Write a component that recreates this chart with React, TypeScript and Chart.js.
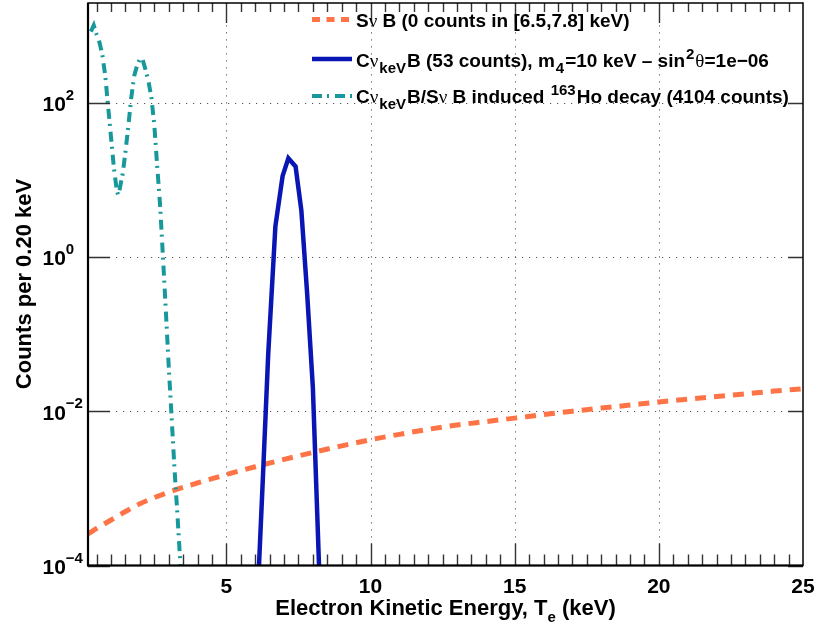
import React, { useEffect, useRef } from "react";
import { Chart, registerables } from "chart.js";
Chart.register(...registerables);

// ---- data ----
const bkgX = [0.2, 0.5, 1, 1.5, 2, 3, 4, 5, 6, 7, 8, 9, 10, 11, 12, 13, 14, 15, 16, 17, 18, 19, 20, 21, 22, 23, 24, 25];
const bkgY = [2.57e-4, 3.02e-4, 3.89e-4, 5.01e-4, 6.31e-4, 8.91e-4, 1.175e-3, 1.51e-3, 1.905e-3, 2.37e-3, 2.92e-3, 3.55e-3, 4.27e-3, 5.01e-3, 5.82e-3, 6.61e-3, 7.33e-3, 8.13e-3, 9.02e-3, 1.0e-2, 1.096e-2, 1.2e-2, 1.318e-2, 1.43e-2, 1.55e-2, 1.68e-2, 1.82e-2, 1.95e-2];

const sigX = [6.0, 6.25, 6.45, 6.7, 6.95, 7.15, 7.4, 7.6, 7.8, 8.0, 8.25];
const sigY = [8e-6, 1e-3, 0.054, 2.5, 11.2, 19, 14.8, 4.0, 0.34, 0.02, 4e-5];

const hoX = [0.3, 0.4, 0.5, 0.6, 0.7, 0.8, 0.9, 1.0, 1.1, 1.2, 1.25, 1.3, 1.4, 1.5, 1.6, 1.7, 1.8, 1.9, 2.0, 2.05, 2.1, 2.2, 2.3, 2.4, 2.5, 2.6, 2.7, 2.8, 2.9, 3.0, 3.1, 3.2, 3.3, 3.4, 3.5];
const hoY = [830, 1000, 760, 600, 410, 220, 87, 35, 14, 7.2, 6.3, 7.6, 11.7, 23, 50, 115, 220, 300, 370, 380, 355, 263, 186, 115, 51, 15, 4.7, 1.0, 0.2, 0.038, 8.3e-3, 1.8e-3, 4.7e-4, 1.1e-4, 2.5e-5];

const xMajorTicks = [5, 10, 15, 20, 25];
const xTickLabels = ["5", "10", "15", "20", "25"];
const yMajorTicks = [1e-4, 1e-2, 1, 1e2];
const yTickExps = ["\u22124", "\u22122", "0", "2"];

const X_MIN = 0.2;
const X_MAX = 25;
const Y_MIN = 1e-4;
const Y_MAX = 1950;

const ORANGE = "#FF7446";
const BLUE = "#0A16B4";
const TEAL = "#17989A";

const SANS = '"Liberation Sans", Arial, Helvetica, sans-serif';
const SERIF = '"Liberation Serif", "DejaVu Serif", serif';

type Seg = { t: string; size: number; serif?: boolean; dy?: number; pad?: number };

function drawRich(ctx: CanvasRenderingContext2D, x: number, y: number, segs: Seg[]) {
  let cx = x;
  for (const s of segs) {
    ctx.font = `${s.serif ? "" : "bold "}${s.size}px ${s.serif ? SERIF : SANS}`;
    cx += s.pad || 0;
    ctx.fillText(s.t, cx, y + (s.dy || 0));
    cx += ctx.measureText(s.t).width + (s.pad || 0);
  }
  return cx - x;
}
function richWidth(ctx: CanvasRenderingContext2D, segs: Seg[]) {
  let w = 0;
  for (const s of segs) {
    ctx.font = `${s.serif ? "" : "bold "}${s.size}px ${s.serif ? SERIF : SANS}`;
    w += ctx.measureText(s.t).width + 2 * (s.pad || 0);
  }
  return w;
}

const LF = 19; // legend font
const LS = 15; // legend sub/sup font
const P = 1; // script padding

const legendRows: { color: string; dash: number[]; width: number; lineY: number; base: number; segs: Seg[] }[] = [
  {
    color: ORANGE, dash: [8, 6.5], width: 5, lineY: 19.5, base: 26.7,
    segs: [
      { t: "S", size: LF },
      { t: "\u03BD", size: LF, serif: true },
      { t: " B (0 counts in [6.5,7.8] keV)", size: LF },
    ],
  },
  {
    color: BLUE, dash: [], width: 4.5, lineY: 59, base: 66.5,
    segs: [
      { t: "C", size: LF },
      { t: "\u03BD", size: LF, serif: true },
      { t: "keV", size: LS, dy: 6, pad: P },
      { t: "B (53 counts), m", size: LF },
      { t: "4", size: LS, dy: 6, pad: P },
      { t: "=10 keV \u2013 sin", size: LF },
      { t: "2", size: LS, dy: -8, pad: P },
      { t: "\u03B8", size: LF, serif: true },
      { t: "=1e\u221206", size: LF },
    ],
  },
  {
    color: TEAL, dash: [10, 5, 2, 6], width: 4, lineY: 96, base: 103,
    segs: [
      { t: "C", size: LF },
      { t: "\u03BD", size: LF, serif: true },
      { t: "keV", size: LS, dy: 6, pad: P },
      { t: "B/S", size: LF },
      { t: "\u03BD", size: LF, serif: true },
      { t: " B induced ", size: LF },
      { t: "163", size: LS, dy: -8, pad: P },
      { t: "Ho decay (4104 counts)", size: LF },
    ],
  },
];

const rootStyle = {
  id: "rootStyle",
  beforeDatasetsDraw(chart: any) {
    const { ctx, chartArea: a, scales } = chart;
    const xs = scales.x, ys = scales.y;
    ctx.save();
    ctx.strokeStyle = "#555";
    ctx.lineWidth = 1;
    ctx.setLineDash([1.2, 5.8]);
    for (const v of xMajorTicks) {
      if (v >= X_MAX) continue;
      const px = Math.round(xs.getPixelForValue(v)) + 0.5;
      ctx.beginPath();
      ctx.moveTo(px, a.bottom);
      ctx.lineTo(px, a.top);
      ctx.stroke();
    }
    for (const v of yMajorTicks) {
      if (v <= Y_MIN) continue;
      const py = Math.round(ys.getPixelForValue(v)) + 0.5;
      ctx.beginPath();
      ctx.moveTo(a.left, py);
      ctx.lineTo(a.right, py);
      ctx.stroke();
    }
    ctx.restore();
  },
  afterDatasetsDraw(chart: any) {
    const { ctx, chartArea: a, scales } = chart;
    const xs = scales.x, ys = scales.y;
    ctx.save();
    ctx.setLineDash([]);
    // ticks
    ctx.strokeStyle = "#333";
    ctx.lineWidth = 1.4;
    for (let i = 1; i * 0.5 < X_MAX; i++) {
      const v = i * 0.5;
      if (v <= X_MIN) continue;
      const major = xMajorTicks.includes(v);
      const px = Math.round(xs.getPixelForValue(v)) + 0.5;
      ctx.beginPath();
      ctx.moveTo(px, a.bottom);
      ctx.lineTo(px, a.bottom - (major ? 22 : 11));
      ctx.moveTo(px, a.top);
      ctx.lineTo(px, a.top + (major ? 20 : 9));
      ctx.stroke();
    }
    for (const v of yMajorTicks) {
      const py = Math.round(ys.getPixelForValue(v)) + 0.5;
      ctx.beginPath();
      ctx.moveTo(a.left, py);
      ctx.lineTo(a.left + 22, py);
      ctx.moveTo(a.right, py);
      ctx.lineTo(a.right - 15, py);
      ctx.stroke();
    }
    // frame
    ctx.strokeStyle = "#000";
    ctx.lineWidth = 1.5;
    ctx.strokeRect(a.left, a.top, a.right - a.left, a.bottom - a.top);
    ctx.lineWidth = 2.2;
    ctx.beginPath();
    ctx.moveTo(a.left, a.top);
    ctx.lineTo(a.left, a.bottom);
    ctx.lineTo(a.right, a.bottom);
    ctx.stroke();

    // tick labels
    ctx.fillStyle = "#000";
    ctx.textBaseline = "alphabetic";
    ctx.font = `bold 21px ${SANS}`;
    ctx.textAlign = "center";
    xMajorTicks.forEach((v, i) => {
      ctx.fillText(xTickLabels[i], xs.getPixelForValue(v), 593);
    });
    ctx.textAlign = "left";
    yMajorTicks.forEach((v, i) => {
      const py = ys.getPixelForValue(v);
      drawRich(ctx, 42.5, py + 8.5, [
        { t: "10", size: 21 },
        { t: yTickExps[i], size: 15, dy: -11.2 },
      ]);
    });

    // axis titles
    const xt: Seg[] = [
      { t: "Electron Kinetic Energy, T", size: 22 },
      { t: "e", size: 15, dy: 7 },
      { t: " (keV)", size: 22 },
    ];
    const xw = richWidth(ctx, xt);
    drawRich(ctx, (a.left + a.right) / 2 - xw / 2, 615, xt);

    ctx.save();
    ctx.translate(31, 284);
    ctx.rotate(-Math.PI / 2);
    ctx.font = `bold 22px ${SANS}`;
    ctx.textAlign = "center";
    ctx.fillText("Counts per 0.20 keV", 0, 0);
    ctx.restore();

    // legend
    for (const r of legendRows) {
      ctx.save();
      ctx.strokeStyle = r.color;
      ctx.lineWidth = r.width;
      ctx.lineCap = "butt";
      ctx.setLineDash(r.dash);
      ctx.beginPath();
      ctx.moveTo(312, r.lineY);
      ctx.lineTo(352, r.lineY);
      ctx.stroke();
      ctx.restore();
      ctx.fillStyle = "#000";
      ctx.textAlign = "left";
      drawRich(ctx, 356, r.base, r.segs);
    }
    ctx.restore();
  },
};

export default function App() {
  const ref = useRef<HTMLCanvasElement>(null);
  useEffect(() => {
    document.body.style.margin = "0";
    const cv = ref.current!;
    const pts = (xs: number[], ys: number[]) => xs.map((x, i) => ({ x, y: ys[i] }));
    const chart = new Chart(cv, {
      type: "line",
      data: {
        datasets: [
          {
            label: "ho",
            data: pts(hoX, hoY),
            borderColor: TEAL,
            borderWidth: 4,
            borderDash: [10, 5, 2, 6],
            borderCapStyle: "butt",
            pointRadius: 0,
            fill: false,
            tension: 0,
            clip: 0,
          } as any,
          {
            label: "sig",
            data: pts(sigX, sigY),
            borderColor: BLUE,
            borderWidth: 4.5,
            pointRadius: 0,
            fill: false,
            tension: 0,
            clip: 0,
          } as any,
          {
            label: "bkg",
            data: pts(bkgX, bkgY),
            borderColor: ORANGE,
            borderWidth: 5,
            borderDash: [11, 8],
            borderCapStyle: "butt",
            pointRadius: 0,
            fill: false,
            cubicInterpolationMode: "monotone",
            clip: 0,
          } as any,
        ],
      },
      options: {
        responsive: false,
        animation: false,
        devicePixelRatio: 1,
        layout: { padding: { left: 88, right: 14, top: 3, bottom: 63.5 } },
        scales: {
          x: { type: "linear", min: X_MIN, max: X_MAX, display: false },
          y: { type: "logarithmic", min: Y_MIN, max: Y_MAX, display: false },
        },
        plugins: { legend: { display: false }, tooltip: { enabled: false } },
        events: [],
      },
      plugins: [rootStyle],
    });
    return () => chart.destroy();
  }, []);
  return (
    <div style={{ width: 817, height: 629, background: "#fff" }}>
      <canvas ref={ref} width={817} height={629} style={{ display: "block" }} />
    </div>
  );
}
